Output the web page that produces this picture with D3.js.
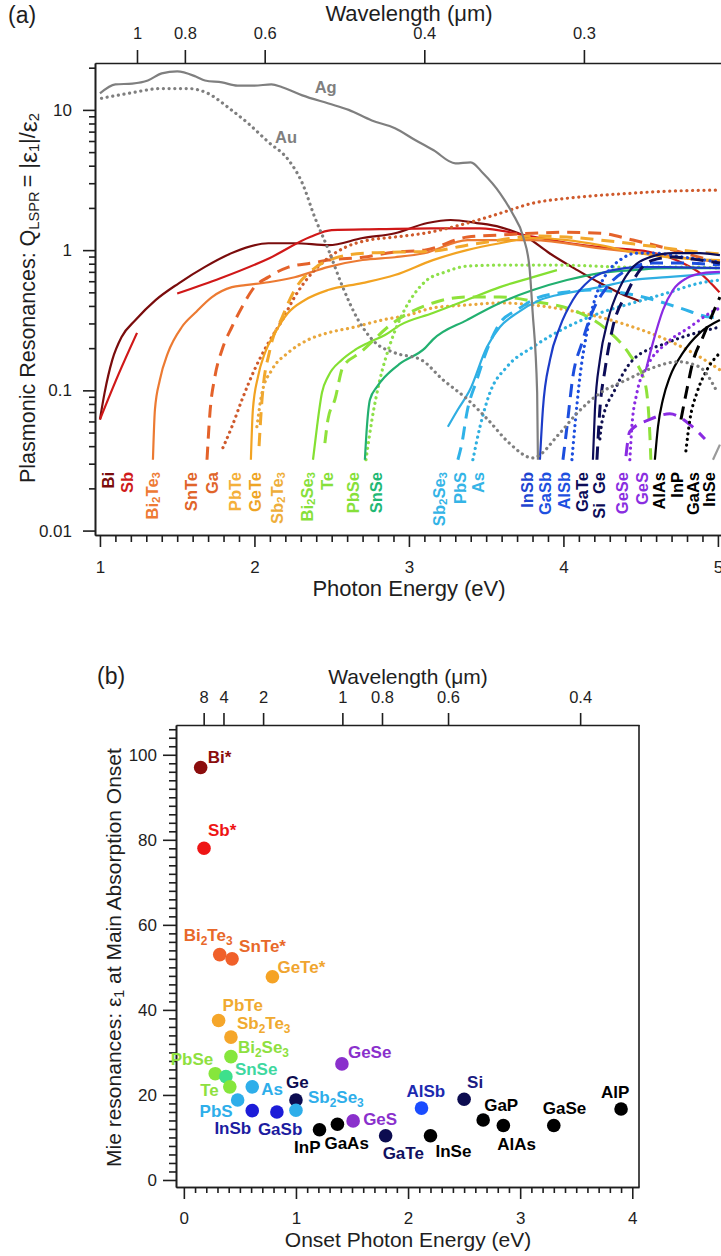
<!DOCTYPE html>
<html>
<head>
<meta charset="utf-8">
<script src="https://cdn.jsdelivr.net/npm/d3@7"></script>
<style>
  body { margin: 0; background: #fff; }
  svg { display: block; }
</style>
</head>
<body>
<svg id="fig" width="721" height="1256"></svg>
<script>
// ==== panel (a): Q_LSPR = |eps1|/eps2 vs photon energy, [eV, Q] ====
const agQ = [[1.00,13.1],[1.10,15.2],[1.21,15.4],[1.31,16.2],[1.40,18.2],[1.50,18.8],[1.62,17.3],[1.68,16.2],[1.79,15.7],[1.89,14.9],[2.00,14.9],[2.11,15.2],[2.18,14.5],[2.31,12.7],[2.48,11.1],[2.61,10.0],[2.76,8.4],[2.91,7.4],[3.04,6.1],[3.16,5.15],[3.30,4.16],[3.40,4.23],[3.48,3.53],[3.59,2.54],[3.67,1.83],[3.74,1.24],[3.78,0.76],[3.80,0.37],[3.83,0.096],[3.835,0.032]]
const auQ = [[1.01,12.1],[1.18,13.1],[1.40,14.2],[1.57,14.2],[1.70,13.1],[1.83,10.4],[1.96,8.0],[2.09,5.9],[2.22,4.4],[2.31,3.0],[2.39,1.72],[2.48,1.0],[2.57,0.55],[2.67,0.32],[2.78,0.22],[2.91,0.185],[3.08,0.165],[3.22,0.119],[3.38,0.086],[3.51,0.062],[3.65,0.042],[3.80,0.033],[3.98,0.050],[4.09,0.069],[4.24,0.096],[4.41,0.119],[4.58,0.145],[4.74,0.16],[4.88,0.147],[4.99,0.10]]
const biQ = [[1.00,0.062],[1.03,0.096],[1.08,0.165],[1.14,0.24],[1.23,0.317],[1.36,0.44],[1.51,0.58],[1.68,0.76],[1.87,0.97],[2.09,1.12],[2.26,1.12],[2.48,1.085],[2.70,1.22],[2.91,1.32],[3.12,1.56],[3.27,1.64],[3.44,1.56],[3.59,1.46],[3.76,1.24],[3.91,0.95],[4.09,0.72],[4.24,0.58],[4.37,0.49],[4.50,0.43]]
const sbQ = [[1.00,0.062],[1.12,0.13],[1.24,0.257],null,[1.50,0.49],[1.78,0.63],[2.10,0.88],[2.36,1.24],[2.50,1.39],[2.81,1.41],[3.14,1.43],[3.46,1.43],[3.78,1.26],[4.04,1.12],[4.24,1.05],[4.56,0.97],[4.77,0.81],[4.88,0.69],[5.01,0.50]]
const bi2te3Q = [[1.343,0.032],[1.356,0.073],[1.388,0.119],[1.44,0.185],[1.53,0.283],[1.615,0.356],[1.725,0.463],[1.854,0.545],[1.94,0.563],[2.09,0.59],[2.26,0.64],[2.48,0.76],[2.70,0.85],[2.91,0.89],[3.10,0.95],[3.38,1.18],[3.59,1.18],[3.80,1.18],[4.24,1.03],[4.63,0.92],[5.01,0.82]]
const snteQ = [[1.693,0.032],[1.712,0.069],[1.744,0.125],[1.79,0.194],[1.854,0.283],[1.92,0.393],[2.00,0.545],[2.09,0.642],[2.22,0.757],[2.37,0.808],[2.48,0.85],[2.70,0.89],[2.91,0.97],[3.10,1.0],[3.38,1.24],[3.59,1.28],[3.80,1.32],[4.02,1.34],[4.24,1.32],[4.45,1.18],[4.67,1.03],[4.88,0.89],[5.01,0.82]]
const gaQ = [[1.796,0.039],[1.854,0.055],[1.92,0.086],[2.00,0.14],[2.09,0.218],[2.18,0.317],[2.26,0.463],[2.35,0.642],[2.46,0.85],[2.59,1.05],[2.74,1.18],[2.91,1.24],[3.10,1.32],[3.38,1.56],[3.59,1.83],[3.80,2.16],[4.02,2.34],[4.24,2.46],[4.45,2.55],[4.67,2.63],[5.01,2.68]]
const pbteQ = [[2.03,0.04],[2.049,0.086],[2.10,0.194],[2.18,0.333],[2.26,0.519],[2.39,0.745],[2.52,0.877],[2.715,0.952],[2.94,0.968],[3.155,0.984],[3.375,1.085],[3.59,1.18],[3.80,1.26],[4.02,1.24],[4.24,1.18],[4.56,1.07],[4.88,0.968],[5.01,0.94]]
const geteQ = [[1.977,0.032],[1.99,0.073],[2.023,0.125],[2.068,0.185],[2.133,0.257],[2.217,0.356],[2.327,0.441],[2.476,0.519],[2.696,0.582],[2.909,0.664],[3.155,0.849],[3.375,1.0],[3.589,1.12],[3.803,1.22],[4.023,1.18],[4.236,1.085],[4.45,0.968],[4.67,0.892],[5.013,0.849]]
const sb2te3Q = [[2.016,0.055],[2.049,0.096],[2.113,0.14],[2.217,0.185],[2.346,0.229],[2.476,0.257],[2.65,0.283],[2.825,0.317],[2.994,0.344],[3.155,0.387],[3.375,0.406],[3.589,0.42],[3.803,0.406],[4.023,0.374],[4.236,0.333],[4.45,0.283],[4.67,0.229],[4.838,0.185],[5.013,0.14]]
const bi2se3Q = [[2.379,0.032],[2.405,0.055],[2.437,0.096],[2.476,0.125],[2.566,0.165],[2.65,0.194],[2.735,0.218],[2.845,0.248],[2.942,0.292],[3.155,0.356],[3.375,0.441],[3.589,0.545],[3.803,0.642],[3.958,0.72]]
const teQ = [[2.456,0.042],[2.476,0.062],[2.521,0.086],[2.573,0.147],[2.683,0.185],[2.896,0.302],[3.155,0.42],[3.375,0.463],[3.589,0.463],[3.828,0.427],[4.061,0.374],[4.282,0.27],[4.43,0.179],[4.528,0.113],[4.56,0.047],[4.566,0.032]]
const pbseQ = [[2.722,0.032],[2.761,0.062],[2.812,0.119],[2.877,0.211],[2.961,0.356],[3.039,0.494],[3.117,0.612],[3.233,0.697],[3.375,0.769],[3.589,0.782],[3.977,0.782],[4.411,0.757],[4.838,0.757],[5.013,0.744]]
const snseQ = [[2.715,0.032],[2.728,0.055],[2.748,0.086],[2.793,0.106],[2.845,0.125],[2.942,0.155],[3.104,0.2],[3.155,0.23],[3.375,0.317],[3.589,0.42],[3.803,0.519],[4.023,0.612],[4.236,0.686],[4.45,0.72],[4.67,0.744],[5.013,0.744]]
const sb2se3Q = [[3.252,0.055],[3.317,0.073],[3.395,0.101],[3.505,0.204],[3.589,0.283],[3.699,0.356],[3.848,0.441],[4.023,0.494],[4.236,0.545],[4.45,0.612],[4.67,0.642],[5.013,0.686]]
const pbsQ = [[3.317,0.032],[3.343,0.042],[3.375,0.069],[3.44,0.119],[3.505,0.194],[3.589,0.302],[3.699,0.374],[3.828,0.455],[4.023,0.503],[4.191,0.519],[4.515,0.463],[4.754,0.387],[4.948,0.333],[5.013,0.33]]
const asQ = [[3.414,0.032],[3.46,0.055],[3.524,0.096],[3.634,0.147],[3.803,0.204],[4.023,0.283],[4.236,0.356],[4.45,0.42],[4.67,0.494],[4.883,0.582],[5.013,0.612]]
const insbQ = [[3.848,0.032],[3.867,0.073],[3.913,0.165],[3.977,0.283],[4.061,0.441],[4.172,0.612],[4.32,0.72],[4.495,0.757],[4.67,0.757],[5.013,0.744]]
const gasbQ = [[3.997,0.032],[4.023,0.055],[4.061,0.125],[4.12,0.218],[4.184,0.356],[4.282,0.545],[4.411,0.72],[4.579,0.808],[4.773,0.808],[5.013,0.782]]
const alsbQ = [[4.055,0.032],[4.074,0.055],[4.107,0.125],[4.159,0.283],[4.217,0.494],[4.282,0.686],[4.366,0.849],[4.476,0.952],[4.579,0.952],[4.773,0.892],[5.013,0.82]]
const gateQ = [[4.191,0.032],[4.204,0.073],[4.236,0.165],[4.288,0.317],[4.366,0.545],[4.45,0.757],[4.56,0.892],[4.709,0.952],[4.883,0.952],[5.013,0.92]]
const siQ = [[4.217,0.032],[4.236,0.073],[4.269,0.14],[4.32,0.283],[4.411,0.494],[4.495,0.72],[4.579,0.849],[4.709,0.892],[4.883,0.849],[5.013,0.808]]
const geQ = [[4.236,0.045],[4.249,0.059],[4.333,0.101],[4.45,0.165],[4.67,0.218],[5.013,0.283]]
const geseQ = [[4.534,0.14],[4.579,0.218],[4.644,0.374],[4.709,0.519],[4.799,0.632],[4.903,0.686],[5.013,0.70]]
const gesQ = [[4.43,0.032],[4.443,0.055],[4.476,0.096],[4.54,0.147],[4.67,0.218],[4.819,0.283],[4.948,0.356],[5.013,0.387]]
const gesDashQ = [[4.405,0.034],[4.43,0.051],[4.56,0.062],[4.689,0.068],[4.819,0.057],[4.916,0.045]]
const alasQ = [[4.592,0.032],[4.612,0.055],[4.644,0.086],[4.689,0.125],[4.773,0.185],[4.883,0.257],[5.013,0.317]]
const inpQ = [[4.761,0.062],[4.799,0.101],[4.838,0.16],[4.903,0.24],[4.968,0.356],[5.013,0.463]]
const gaasQ = [[4.793,0.037],[4.819,0.062],[4.864,0.096],[4.929,0.14],[5.013,0.185]]
const inseQ = [[4.968,0.032],[5.013,0.041]]

// material names under the curves and the energy they sit at
const labelNamesA = ["Bi","Sb","Bi2Te3","SnTe","Ga","PbTe","GeTe","Sb2Te3","Bi2Se3","Te","PbSe","SnSe","Sb2Se3","PbS","As","InSb","GaSb","AlSb","GaTe","Si\u00a0\u00a0Ge","GeSe","GeS","AlAs","InP","GaAs","InSe"]
const labelEnergyA = [1.052,1.175,1.337,1.589,1.725,1.874,2.003,2.146,2.34,2.469,2.637,2.79,3.194,3.33,3.45,3.763,3.88,4.003,4.12,4.23,4.38,4.51,4.62,4.735,4.84,4.94]

// tick labels
const yTicksA = [0.01, 0.1, 1, 10]
const xTicksA = [1, 2, 3, 4, 5]
const wavelengthA = [1, 0.8, 0.6, 0.4, 0.3]

// ==== panel (b): eps1 at main absorption onset ====
const onsetNames = ["Bi*","Sb*","Bi2Te3","SnTe*","GeTe*","PbTe","Sb2Te3","Bi2Se3","PbSe","SnSe","Te","As","PbS","InSb","GaSb","Ge","Sb2Se3","InP","GaAs","GeS","GeSe","GaTe","AlSb","InSe","Si","GaP","AlAs","GaSe","AlP"]
const onsetEnergy = [0.15,0.18,0.32,0.43,0.79,0.31,0.42,0.42,0.28,0.375,0.41,0.61,0.48,0.61,0.83,1.0,1.0,1.21,1.37,1.51,1.41,1.80,2.12,2.2,2.5,2.67,2.85,3.30,3.90]
const onsetEps1 = [97,78,53,52,47.8,37.5,33.6,29,25,24.3,21.9,21.9,18.8,16.3,16,18.8,16.4,11.8,13.1,13.9,27.3,10.4,16.9,10.4,19,14.1,12.8,12.8,16.7]

const yTicksB = [0, 20, 40, 60, 80, 100]
const xTicksB = [0, 1, 2, 3, 4]
const wavelengthB = [8, 4, 2, 1, 0.8, 0.6, 0.4]

// ==== styles / layout ====
const FONT = '"Liberation Sans", Arial, Helvetica, sans-serif'
const AX = "#1e1e1e"
const HC = 1.2398      // eV*um, panel (a) top axis
const HC_B = 1.414     // panel (b) top axis, as placed in the original

const curves = [
  ["Bi", biQ, "#7a0c0c", "solid"], ["Sb", sbQ, "#d01818", "solid"],
  ["Bi2Te3", bi2te3Q, "#ec7a32", "solid"], ["SnTe", snteQ, "#e4622a", "dash"],
  ["Ga", gaQ, "#cf5a2c", "dot"], ["PbTe", pbteQ, "#f2a82c", "dash"],
  ["GeTe", geteQ, "#f2a322", "solid"], ["Sb2Te3", sb2te3Q, "#e9a73c", "dot"],
  ["Bi2Se3", bi2se3Q, "#84e032", "solid"], ["Te", teQ, "#8ee23a", "dash"],
  ["PbSe", pbseQ, "#8ee04a", "dot"], ["SnSe", snseQ, "#22b070", "solid"],
  ["Sb2Se3", sb2se3Q, "#2faee2", "solid"], ["PbS", pbsQ, "#2fb2e8", "dash"],
  ["As", asQ, "#2fb0e0", "dot"], ["InSb", insbQ, "#1c3cc8", "solid"],
  ["GaSb", gasbQ, "#1c4ede", "dash"], ["AlSb", alsbQ, "#1c4ede", "dot"],
  ["GaTe", gateQ, "#0c0c58", "solid"], ["Si", siQ, "#0c0c58", "dash"],
  ["Ge", geQ, "#101050", "dot"], ["GeSe", geseQ, "#8a2be2", "solid"],
  ["GeS", gesQ, "#8a2be2", "dot"], ["GeS2", gesDashQ, "#8a2be2", "dash"],
  ["AlAs", alasQ, "#000", "solid"], ["InP", inpQ, "#000", "dash"],
  ["GaAs", gaasQ, "#000", "dot"], ["InSe", inseQ, "#9a9a9a", "solid"],
  ["Au", auQ, "#7f7f7f", "dot"], ["Ag", agQ, "#7f7f7f", "solid"],
]
const lineStyle = {
  solid: { w: 2.2, dash: null, cap: "butt" },
  dash: { w: 3, dash: "13 8", cap: "butt" },
  dot: { w: 3.2, dash: "0.1 5.6", cap: "round" },
}
const labelColorA = ["#7a0c0c","#cf1a1a","#ee7a34","#e0642a","#e0642a","#f4b03a","#eea424","#eeae3a","#86e03a","#86e03a","#86e03a","#22b874","#34b4e6","#34b4e6","#34b4e6","#1e44d0","#1e50e0","#1e50e0","#0c0c58","#0c0c58","#8a2ee0","#8a2ee0","#000","#000","#000","#000"]

const dotColorB = ["#8b0d0d","#ee1515","#f0602a","#f0602a","#f5a325","#f5a62a","#f5a62a","#86e63c","#86e63c","#3ee08c","#86e63c","#2eaeea","#2eaeea","#1c1cd8","#1c1cd8","#0c0c50","#2eaeea","#000","#000","#8a30cc","#8a30cc","#0c0c50","#1a4cff","#000","#0c0c50","#000","#000","#000","#000"]
const labelColorB = ["#8b0d0d","#ee1515","#e8682a","#e8682a","#f0a530","#f0aa30","#f0aa30","#8ee040","#8ee040","#3ed8a0","#8ee040","#2eaeea","#2eaeea","#1c1ca0","#1c1ca0","#0c0c50","#2eaeea","#000","#000","#8a30cc","#8a30cc","#101060","#1c2ab0","#000","#1a1a80","#000","#000","#000","#000"]
// label offset from dot centre [dx, dy(baseline), anchor]
const labelOffsetB = [[7,-5,"start"],[4,-12,"start"],[-36,-14,"start"],[7,-7,"start"],[5,-4,"start"],[4,-10,"start"],[6,-8,"start"],[7,-4,"start"],[-2,-9,"end"],[9,-2,"start"],[-11,9,"end"],[9,8,"start"],[-5,17,"end"],[-1,23,"end"],[-19,23,"start"],[-10,-12,"start"],[12,-7,"start"],[1,23,"end"],[-13,25,"start"],[10,4,"start"],[6,-6,"start"],[-3,23,"start"],[-15,-11,"start"],[5,21,"start"],[3,-11,"start"],[1,-9,"start"],[-6,24,"start"],[-11,-12,"start"],[-20,-11,"start"]]

const svg = d3.select("#fig").attr("font-family", FONT)

// text with digit subscripts
function chem(sel, name, shift) {
  let down = false
  name.split(/(\d)/).filter(s => s !== "").forEach(part => {
    const sub = /^\d$/.test(part)
    const t = sel.append("tspan").text(part)
    if (sub) {
      t.attr("font-size", "0.7em")
      if (!down) t.attr("dy", shift)
      down = true
    } else {
      if (down) t.attr("dy", -shift)
      down = false
    }
  })
}

function styleAxis(g, fs) {
  g.attr("font-family", FONT).attr("font-size", fs)
  g.selectAll(".domain").attr("stroke", AX).attr("stroke-width", 1.6)
  g.selectAll(".tick line").attr("stroke", AX).attr("stroke-width", 1.6)
  g.selectAll(".tick text").attr("fill", AX)
}

//  Panel (a)
// ===================================
const xA = d3.scaleLinear().domain([0.968, 5.02]).range([95, 721])
const yA = d3.scaleLog().domain([0.0093, 21.6]).range([535, 63])

svg.append("defs").append("clipPath").attr("id", "clipA")
  .append("rect").attr("x", 95).attr("y", 63).attr("width", 626).attr("height", 472)

const lineA = d3.line()
  .defined(d => d !== null)
  .x(d => xA(d[0]))
  .y(d => yA(d[1]))
  .curve(d3.curveMonotoneX)

svg.append("g")
  .attr("clip-path", "url(#clipA)")
  .selectAll("path")
  .data(curves)
  .join("path")
  .attr("d", d => lineA(d[1]))
  .attr("fill", "none")
  .attr("stroke", d => d[2])
  .attr("stroke-width", d => lineStyle[d[3]].w)
  .attr("stroke-dasharray", d => lineStyle[d[3]].dash)
  .attr("stroke-linecap", d => lineStyle[d[3]].cap)
  .attr("stroke-linejoin", "round")

// Ag / Au tags
const metalTags = [["Ag", 2.39, 13.3], ["Au", 2.133, 5.78]]
svg.append("g").selectAll("text").data(metalTags).join("text")
  .attr("x", d => xA(d[1])).attr("y", d => yA(d[2]))
  .attr("font-size", 16.5).attr("font-weight", "bold").attr("fill", "#7f7f7f")
  .text(d => d[0])

// rotated material names
svg.append("g").selectAll("text").data(labelNamesA).join("text")
  .attr("transform", (d, i) => `translate(${xA(labelEnergyA[i])},472) rotate(-90)`)
  .attr("text-anchor", "end")
  .attr("dominant-baseline", "central")
  .attr("font-size", 16.5)
  .attr("font-weight", "bold")
  .attr("fill", (d, i) => labelColorA[i])
  .each(function (d) { chem(d3.select(this), d, 4) })

// axes
const minorXA = d3.range(10, 51).map(v => v / 10).filter(v => v % 1 !== 0)
const minorYA = [0.01, 0.1, 1, 10].flatMap(p => d3.range(2, 10).map(k => +(k * p).toPrecision(2))).filter(v => v < 21.6)

svg.append("g").attr("transform", "translate(0,535)")
  .call(d3.axisBottom(xA).tickValues(minorXA).tickSize(7).tickSizeOuter(0).tickFormat(""))
  .call(g => styleAxis(g, 17))
svg.append("g").attr("transform", "translate(0,535)")
  .call(d3.axisBottom(xA).tickValues(xTicksA).tickSize(12).tickSizeOuter(0).tickPadding(14).tickFormat(d => String(d)))
  .call(g => styleAxis(g, 17))
svg.append("g").attr("transform", "translate(95,0)")
  .call(d3.axisLeft(yA).tickValues(minorYA).tickSize(6).tickSizeOuter(0).tickFormat(""))
  .call(g => styleAxis(g, 17))
svg.append("g").attr("transform", "translate(95,0)")
  .call(d3.axisLeft(yA).tickValues(yTicksA).tickSize(12).tickSizeOuter(0).tickPadding(11).tickFormat(d => String(d)))
  .call(g => styleAxis(g, 17))
svg.append("g").attr("transform", "translate(0,63)")
  .call(d3.axisTop(xA).tickValues(wavelengthA.map(l => HC / l)).tickSize(13).tickSizeOuter(0).tickPadding(11)
    .tickFormat((d, i) => String(wavelengthA[i])))
  .call(g => styleAxis(g, 16.5))

svg.append("text").attr("x", 8).attr("y", 23).attr("font-size", 23).attr("fill", AX).text("(a)")
svg.append("text").attr("x", 409).attr("y", 21).attr("text-anchor", "middle")
  .attr("font-size", 22).attr("fill", AX).text("Wavelength (\u03bcm)")
svg.append("text").attr("x", 409).attr("y", 596).attr("text-anchor", "middle")
  .attr("font-size", 22).attr("fill", AX).text("Photon Energy (eV)")

const yTitleA = svg.append("text")
  .attr("transform", "translate(28,483) rotate(-90)")
  .attr("dominant-baseline", "central")
  .attr("font-size", 21.5).attr("fill", AX)
yTitleA.append("tspan").text("Plasmonic Resonances: Q")
yTitleA.append("tspan").attr("font-size", "0.68em").attr("dy", 6).text("LSPR")
yTitleA.append("tspan").attr("dy", -6).text("\u2009= |")
yTitleA.append("tspan").attr("font-size", "1.15em").text("\u03b5")
yTitleA.append("tspan").attr("font-size", "0.68em").attr("dy", 6).text("1")
yTitleA.append("tspan").attr("dy", -6).text("|/")
yTitleA.append("tspan").attr("font-size", "1.15em").text("\u03b5")
yTitleA.append("tspan").attr("font-size", "0.68em").attr("dy", 6).text("2")

//  Panel (b)
// ===================================
const xB = d3.scaleLinear().domain([-0.07, 4.06]).range([176, 639])
const yB = d3.scaleLinear().domain([-1.65, 107]).range([1187, 725])

svg.append("line").attr("x1", 639).attr("x2", 639).attr("y1", 725).attr("y2", 1187)
  .attr("stroke", AX).attr("stroke-width", 1.6)

const minorXB = d3.range(0, 41).map(v => v / 10).filter(v => v % 1 !== 0)
const minorYB = d3.range(0, 107, 2).filter(v => v % 20 !== 0)

svg.append("g").attr("transform", "translate(0,1187)")
  .call(d3.axisBottom(xB).tickValues(minorXB).tickSize(6).tickSizeOuter(0).tickFormat(""))
  .call(g => styleAxis(g, 17))
svg.append("g").attr("transform", "translate(0,1187)")
  .call(d3.axisBottom(xB).tickValues(xTicksB).tickSize(12).tickSizeOuter(0).tickPadding(13).tickFormat(d => String(d)))
  .call(g => styleAxis(g, 17))
svg.append("g").attr("transform", "translate(176,0)")
  .call(d3.axisLeft(yB).tickValues(minorYB).tickSize(7).tickSizeOuter(0).tickFormat(""))
  .call(g => styleAxis(g, 17))
svg.append("g").attr("transform", "translate(176,0)")
  .call(d3.axisLeft(yB).tickValues(yTicksB).tickSize(13).tickSizeOuter(0).tickPadding(6).tickFormat(d => String(d)))
  .call(g => styleAxis(g, 17))
svg.append("g").attr("transform", "translate(0,725)")
  .call(d3.axisTop(xB).tickValues(wavelengthB.map(l => HC_B / l)).tickSize(12).tickSizeOuter(0).tickPadding(10)
    .tickFormat((d, i) => String(wavelengthB[i])))
  .call(g => styleAxis(g, 16.5))

svg.append("text").attr("x", 97).attr("y", 684).attr("font-size", 23).attr("fill", AX).text("(b)")
svg.append("text").attr("x", 408).attr("y", 684).attr("text-anchor", "middle")
  .attr("font-size", 21).attr("fill", AX).text("Wavelength (\u03bcm)")
svg.append("text").attr("x", 408).attr("y", 1247).attr("text-anchor", "middle")
  .attr("font-size", 21).attr("fill", AX).text("Onset Photon Energy (eV)")

const yTitleB = svg.append("text")
  .attr("transform", "translate(113,1167) rotate(-90)")
  .attr("dominant-baseline", "central")
  .attr("font-size", 21).attr("fill", AX)
yTitleB.append("tspan").text("Mie resonances: \u03b5")
yTitleB.append("tspan").attr("font-size", "0.68em").attr("dy", 6).text("1")
yTitleB.append("tspan").attr("dy", -6).text(" at Main Absorption Onset")

// dots
svg.append("g").selectAll("circle").data(onsetNames).join("circle")
  .attr("cx", (d, i) => xB(onsetEnergy[i]))
  .attr("cy", (d, i) => yB(onsetEps1[i]))
  .attr("r", 6.8)
  .attr("fill", (d, i) => dotColorB[i])

// dot labels
svg.append("g").selectAll("text").data(onsetNames).join("text")
  .attr("x", (d, i) => xB(onsetEnergy[i]) + labelOffsetB[i][0])
  .attr("y", (d, i) => yB(onsetEps1[i]) + labelOffsetB[i][1])
  .attr("text-anchor", (d, i) => labelOffsetB[i][2])
  .attr("font-size", 17)
  .attr("font-weight", "bold")
  .attr("fill", (d, i) => labelColorB[i])
  .each(function (d) { chem(d3.select(this), d, 4) })
</script>
</body>
</html>
